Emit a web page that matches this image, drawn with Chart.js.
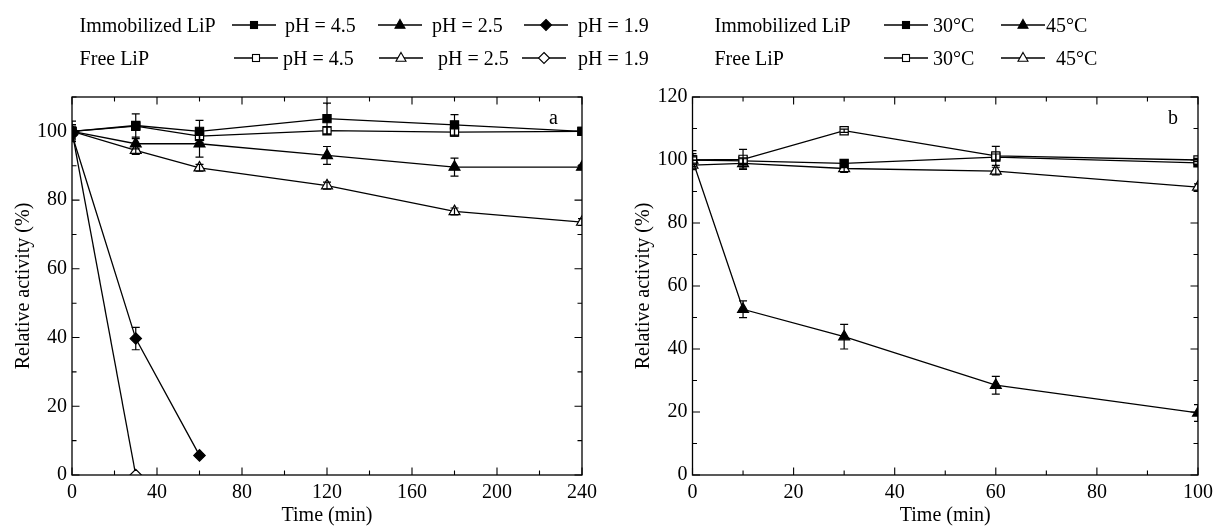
<!DOCTYPE html>
<html><head><meta charset="utf-8">
<script src="https://cdn.jsdelivr.net/npm/chart.js@4.4.1/dist/chart.umd.min.js"></script>
<style>
html,body{margin:0;padding:0;background:#fff;}
#wrap{position:relative;width:1219px;height:528px;overflow:hidden;font-family:'Liberation Serif','Times New Roman',serif;color:#000;}
.box{position:absolute;top:0;height:528px;}
.lg{position:absolute;font-size:20px;line-height:20px;white-space:nowrap;}
.sym{position:absolute;}
</style></head><body>
<div id="wrap">
  <div class="box" style="left:0;width:610px;"><canvas id="chartA"></canvas></div>
  <div class="box" style="left:610px;width:609px;"><canvas id="chartB"></canvas></div>
</div>
<script>
// ---------- DATA ----------
const groupLabels = ['Immobilized LiP', 'Free LiP'];
const phLabels = ['pH = 4.5', 'pH = 2.5', 'pH = 1.9'];
const tempLabels = ['30°C', '45°C'];
const panelLabels = ['a', 'b'];
const axisTitleX = 'Time (min)';
const axisTitleY = 'Relative activity (%)';

// Panel a (pH stability)
const timeA = [0, 30, 60, 120, 180, 240];
const timeA19Immob = [0, 30, 60];
const timeA19Free = [0, 30];
const immobPH45 = [100, 101.7, 100, 103.7, 101.9, 100];
const immobPH45Err = [3, 3.4, 3.2, 4.5, 3.0, 0.6];
const freePH45 = [100, 101.5, 98.6, 100.2, 99.8, 100];
const freePH45Err = [1, 1.2, 1, 1, 1.2, 0.6];
const immobPH25 = [100, 96.4, 96.4, 93, 89.6, 89.6];
const immobPH25Err = [2, 1.5, 3.9, 2.6, 2.6, 0.6];
const freePH25 = [100, 94.5, 89.4, 84.2, 76.7, 73.6];
const freePH25Err = [1.5, 1.2, 1, 1, 1, 1];
const immobPH19 = [99, 39.7, 5.7];
const immobPH19Err = [1.5, 3.25, 0.5];
const freePH19 = [100, 0];
const freePH19Err = [1, 0];

// Panel b (thermal stability)
const timeB = [0, 10, 30, 60, 100];
const immob30 = [100, 99.7, 98.9, 100.9, 99.1];
const immob30Err = [3, 1, 1, 1, 1];
const free30 = [100, 100.2, 109.3, 101.3, 100];
const free30Err = [1, 3.2, 0.5, 3.0, 0.5];
const immob45 = [100, 52.6, 43.9, 28.5, 19.7];
const immob45Err = [2, 2.65, 3.9, 2.8, 2.65];
const free45 = [98.4, 98.9, 97.3, 96.5, 91.4];
const free45Err = [1.5, 1.5, 1.2, 1.2, 1];

// ---------- HELPERS ----------
const FONT = "'Liberation Serif','Times New Roman',serif";
Chart.defaults.font.family = FONT;
Chart.defaults.font.size = 20;
Chart.defaults.color = '#000';

const markerR = { rect: 5.8, triangle: 6.3, rectRot: 5.7 };
function ds(label, xs, ys, errs, style, filled) {
  return {
    label,
    data: xs.map((x, i) => ({ x, y: ys[i] })),
    errorBars: errs,
    borderColor: '#000',
    borderWidth: 1.3,
    pointStyle: style,
    pointRadius: markerR[style],
    pointHoverRadius: markerR[style],
    pointBackgroundColor: filled ? '#000' : '#fff',
    pointBorderColor: '#000',
    pointBorderWidth: 1.2,
    tension: 0,
    fill: false,
    clip: 0
  };
}

const errorBarPlugin = {
  id: 'errorBars',
  afterDatasetsDraw(chart) {
    const { ctx, chartArea: a, scales: { x, y } } = chart;
    ctx.save();
    ctx.beginPath();
    ctx.rect(a.left, a.top, a.right - a.left, a.bottom - a.top);
    ctx.clip();
    ctx.strokeStyle = '#000';
    ctx.lineWidth = 1.2;
    chart.data.datasets.forEach((d) => {
      if (!d.errorBars) return;
      d.data.forEach((p, i) => {
        const e = d.errorBars[i];
        if (!e) return;
        const px = x.getPixelForValue(p.x);
        const yt = y.getPixelForValue(p.y + e);
        const yb = y.getPixelForValue(p.y - e);
        ctx.beginPath();
        ctx.moveTo(px, yt); ctx.lineTo(px, yb);
        ctx.moveTo(px - 4, yt); ctx.lineTo(px + 4, yt);
        ctx.moveTo(px - 4, yb); ctx.lineTo(px + 4, yb);
        ctx.stroke();
      });
    });
    ctx.restore();
  }
};

const framePlugin = {
  id: 'frame',
  afterDraw(chart, args, o) {
    const { ctx, chartArea: a, scales: { x, y } } = chart;
    ctx.save();
    ctx.strokeStyle = '#000';
    ctx.lineWidth = 1.3;
    ctx.strokeRect(a.left, a.top, a.right - a.left, a.bottom - a.top);
    ctx.lineWidth = 1.1;
    const isMajor = (v, m) => Math.abs(v / m - Math.round(v / m)) < 1e-6;
    ctx.beginPath();
    for (let v = x.min; v <= x.max + 1e-9; v += o.xMinor) {
      const L = isMajor(v, o.xMajor) ? 7.5 : 4.5;
      const px = x.getPixelForValue(v);
      ctx.moveTo(px, a.bottom); ctx.lineTo(px, a.bottom - L);
      ctx.moveTo(px, a.top); ctx.lineTo(px, a.top + L);
    }
    for (let v = y.min; v <= y.max + 1e-9; v += o.yMinor) {
      const L = isMajor(v, o.yMajor) ? 7.5 : 4.5;
      const py = y.getPixelForValue(v);
      ctx.moveTo(a.left, py); ctx.lineTo(a.left + L, py);
      ctx.moveTo(a.right, py); ctx.lineTo(a.right - L, py);
    }
    ctx.stroke();
    ctx.restore();
  }
};

function makeChart(id, datasets, sc, lay) {
  return new Chart(document.getElementById(id), {
    type: 'line',
    data: { datasets },
    plugins: [errorBarPlugin, framePlugin],
    options: {
      responsive: true,
      maintainAspectRatio: false,
      animation: false,
      events: [],
      layout: { padding: { left: lay.left, top: 97, right: lay.right, bottom: 0 } },
      plugins: {
        legend: { display: false },
        tooltip: { enabled: false },
        frame: { xMajor: sc.xStep, xMinor: sc.xStep / 2, yMajor: 20, yMinor: 10 }
      },
      scales: {
        x: {
          type: 'linear', min: 0, max: sc.xMax,
          grid: { display: false, drawTicks: false }, border: { display: false },
          ticks: { stepSize: sc.xStep, padding: 6, includeBounds: false, font: { size: 20 } },
          title: { display: true, text: axisTitleX, font: { size: 20 }, padding: { top: 0, bottom: 0 } },
          afterFit(s) { s.height = 53; }
        },
        y: {
          type: 'linear', min: 0, max: sc.yMax,
          grid: { display: false, drawTicks: false }, border: { display: false },
          ticks: { stepSize: 20, padding: 5, includeBounds: false, font: { size: 20 } },
          title: { display: true, text: axisTitleY, font: { size: 20 }, padding: { top: 4, bottom: 0 } },
          afterFit(s) { s.width = lay.axisW; }
        }
      }
    }
  });
}

makeChart('chartA', [
  ds(groupLabels[0] + ' ' + phLabels[0], timeA, immobPH45, immobPH45Err, 'rect', true),
  ds(groupLabels[1] + ' ' + phLabels[0], timeA, freePH45, freePH45Err, 'rect', false),
  ds(groupLabels[0] + ' ' + phLabels[1], timeA, immobPH25, immobPH25Err, 'triangle', true),
  ds(groupLabels[1] + ' ' + phLabels[1], timeA, freePH25, freePH25Err, 'triangle', false),
  ds(groupLabels[0] + ' ' + phLabels[2], timeA19Immob, immobPH19, immobPH19Err, 'rectRot', true),
  ds(groupLabels[1] + ' ' + phLabels[2], timeA19Free, freePH19, freePH19Err, 'rectRot', false)
], { xMax: 240, xStep: 40, yMax: 110 }, { left: 8, right: 28, axisW: 64 });

makeChart('chartB', [
  ds(groupLabels[1] + ' ' + tempLabels[0], timeB, free30, free30Err, 'rect', false),
  ds(groupLabels[0] + ' ' + tempLabels[0], timeB, immob30, immob30Err, 'rect', true),
  ds(groupLabels[0] + ' ' + tempLabels[1], timeB, immob45, immob45Err, 'triangle', true),
  ds(groupLabels[1] + ' ' + tempLabels[1], timeB, free45, free45Err, 'triangle', false)
], { xMax: 100, xStep: 20, yMax: 120 }, { left: 18, right: 18, axisW: 64.5 });

// ---------- LEGENDS (HTML text + small SVG symbols) ----------
const wrap = document.getElementById('wrap');
function addText(txt, left, baseline) {
  const s = document.createElement('div');
  s.className = 'lg';
  s.textContent = txt;
  s.style.left = left + 'px';
  s.style.top = (baseline - 16.75) + 'px';
  wrap.appendChild(s);
}
function addSym(style, filled, left, cy) {
  const ns = 'http://www.w3.org/2000/svg';
  const svg = document.createElementNS(ns, 'svg');
  svg.setAttribute('width', 44); svg.setAttribute('height', 16);
  svg.setAttribute('class', 'sym');
  svg.style.left = left + 'px'; svg.style.top = (cy - 8) + 'px';
  const line = document.createElementNS(ns, 'line');
  line.setAttribute('x1', 0); line.setAttribute('x2', 44);
  line.setAttribute('y1', 8); line.setAttribute('y2', 8);
  line.setAttribute('stroke', '#000'); line.setAttribute('stroke-width', 1.3);
  svg.appendChild(line);
  let m;
  if (style === 'rect') {
    m = document.createElementNS(ns, 'rect');
    m.setAttribute('x', 18.5); m.setAttribute('y', 4.5); m.setAttribute('width', 7); m.setAttribute('height', 7);
  } else if (style === 'triangle') {
    m = document.createElementNS(ns, 'polygon');
    m.setAttribute('points', '22,2.4 27,11.2 17,11.2');
  } else {
    m = document.createElementNS(ns, 'polygon');
    m.setAttribute('points', '22,2.5 27.5,8 22,13.5 16.5,8');
  }
  m.setAttribute('fill', filled ? '#000' : '#fff');
  m.setAttribute('stroke', '#000'); m.setAttribute('stroke-width', 1.1);
  svg.appendChild(m);
  wrap.appendChild(svg);
}
const rows = [{ base: 32, cy: 25, filled: true }, { base: 65, cy: 58, filled: false }];
const styles = ['rect', 'triangle', 'rectRot'];
// left legend
const leftSym = [[231.5, 378, 523.5], [234, 379, 522]];
const leftTxt = [[285, 432, 578], [283, 438, 578]];
rows.forEach((r, ri) => {
  addText(groupLabels[ri], 79.6, r.base);
  phLabels.forEach((lab, k) => {
    addSym(styles[k], r.filled, leftSym[ri][k], r.cy);
    addText(lab, leftTxt[ri][k], r.base);
  });
});
// right legend
const rightSym = [[884, 1001], [884, 1001]];
const rightTxt = [[933, 1046], [933, 1056]];
rows.forEach((r, ri) => {
  addText(groupLabels[ri], 714.5, r.base);
  tempLabels.forEach((lab, k) => {
    addSym(styles[k], r.filled, rightSym[ri][k], r.cy);
    addText(lab, rightTxt[ri][k], r.base);
  });
});
// panel letters
addText(panelLabels[0], 549, 123.3);
addText(panelLabels[1], 1168, 123.3);
</script>
</body></html>
